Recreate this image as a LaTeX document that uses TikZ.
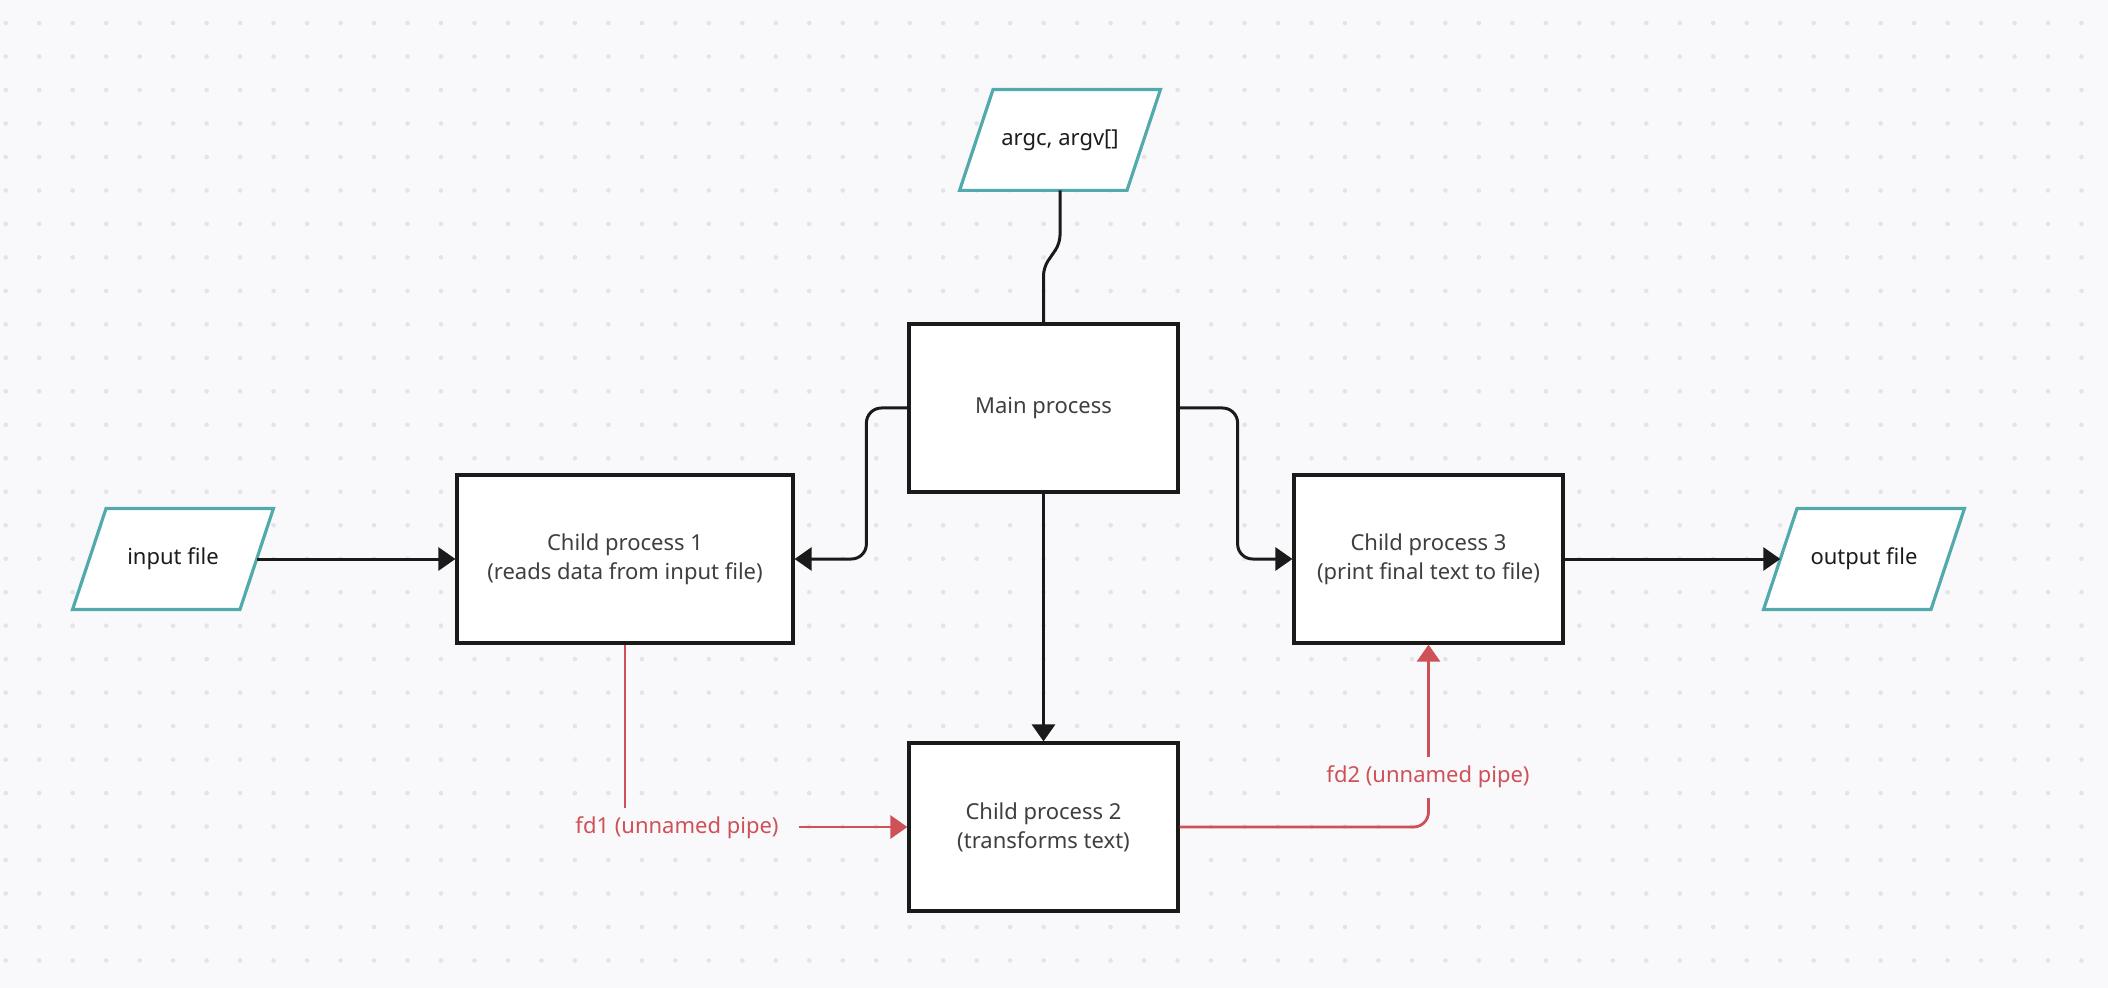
\documentclass[tikz,border=0pt]{standalone}
\usepackage{fontspec}
\setmainfont{Noto Sans}
\usetikzlibrary{arrows.meta,calc}
\pgfdeclarelayer{gridlayer}
\pgfdeclarelayer{shapelayer}
\pgfsetlayers{gridlayer,shapelayer,main}
\definecolor{bgc}{HTML}{F9F9FB}
\definecolor{dotc}{HTML}{E3E3E8}
\definecolor{linec}{HTML}{1A1A1A}
\definecolor{tealc}{HTML}{52AAAD}
\definecolor{pipec}{HTML}{CD5157}
\definecolor{boxtext}{HTML}{3F3F3F}
\definecolor{iotext}{HTML}{1C1C1C}
\tikzset{
  basefont/.style={font=\fontsize{11}{14.5}\selectfont},
  procbox/.style={rectangle, draw=linec, line width=1.6pt, fill=white, text=boxtext,
    basefont, align=center, minimum width=134.5pt, minimum height=84pt, inner sep=0pt},
  iobox/.style={rectangle, inner sep=0pt, minimum width=100pt, minimum height=50pt,
    text=iotext, basefont},
  ioborder/.style={draw=tealc, fill=white, line width=1.6pt},
  conn/.style={draw=linec, line width=1.5pt, -{Triangle[length=8.5pt,width=11.5pt]}},
  plainconn/.style={draw=linec, line width=1.5pt},
  pipe/.style={draw=pipec, line width=1.4pt, -{Triangle[length=8.5pt,width=11.5pt]}},
  pipelabel/.style={fill=bgc, text=pipec, basefont, inner xsep=10pt, inner ysep=0pt,
    minimum height=20.5pt}
}
\begin{document}
\begin{tikzpicture}[x=0.5pt,y=-0.5pt]
\useasboundingbox (0,0) rectangle (2108,988);
\begin{pgfonlayer}{gridlayer}
\fill[bgc] (0,0) rectangle (2108,988);
\foreach \i in {0,...,62}{
  \foreach \j in {0,...,28}{
    \fill[dotc] (5.74+\i*33.48, 23.04+\j*33.48) circle (1.15pt);
  }
}
\end{pgfonlayer}

% nodes
\node[procbox] (main) at (1043.5,408) {Main process};
\node[procbox, minimum width=168pt] (c1) at (625,559) {Child process 1\\(reads data from input file)};
\node[procbox] (c2) at (1043.5,827) {Child process 2\\(transforms text)};
\node[procbox] (c3) at (1428.5,559) {Child process 3\\(print final text to file)};
\node[iobox] (argv) at (1060,140) {argc, argv[]};
\node[iobox] (inp) at (173,559) {input file};
\node[iobox] (outp) at (1864,559) {output file};

\begin{pgfonlayer}{shapelayer}
\foreach \n in {argv,inp,outp}{
  \draw[ioborder] ([xshift=16.7pt]\n.north west) -- (\n.north east)
    -- ([xshift=-16.7pt]\n.south east) -- (\n.south west) -- cycle;
}
\end{pgfonlayer}

% connectors
\draw[plainconn, rounded corners=4pt] (argv.south) -- ++(0,53) -- ++(-16.5,24) -- (main.north);
\draw[conn, rounded corners=7.5pt] (main.west) -- ++(-41,0) |- (c1.east);
\draw[conn, rounded corners=7.5pt] (main.east) -- ++(58,0) |- (c3.west);
\draw[conn] (main.south) -- (c2.north);
\draw[conn] ([xshift=-8.35pt]inp.east) -- (c1.west);
\draw[conn] (c3.east) -- ([xshift=8.35pt]outp.west);

% pipes
\draw[pipe] (c1.south) |- (c2.west);
\node[pipelabel] (l1) at (677,828) {fd1 (unnamed pipe)};
\draw[pipe, rounded corners=7.5pt] (c2.east) -| (c3.south);
\node[pipelabel] (l2) at (1428,777) {fd2 (unnamed pipe)};
\end{tikzpicture}
\end{document}
